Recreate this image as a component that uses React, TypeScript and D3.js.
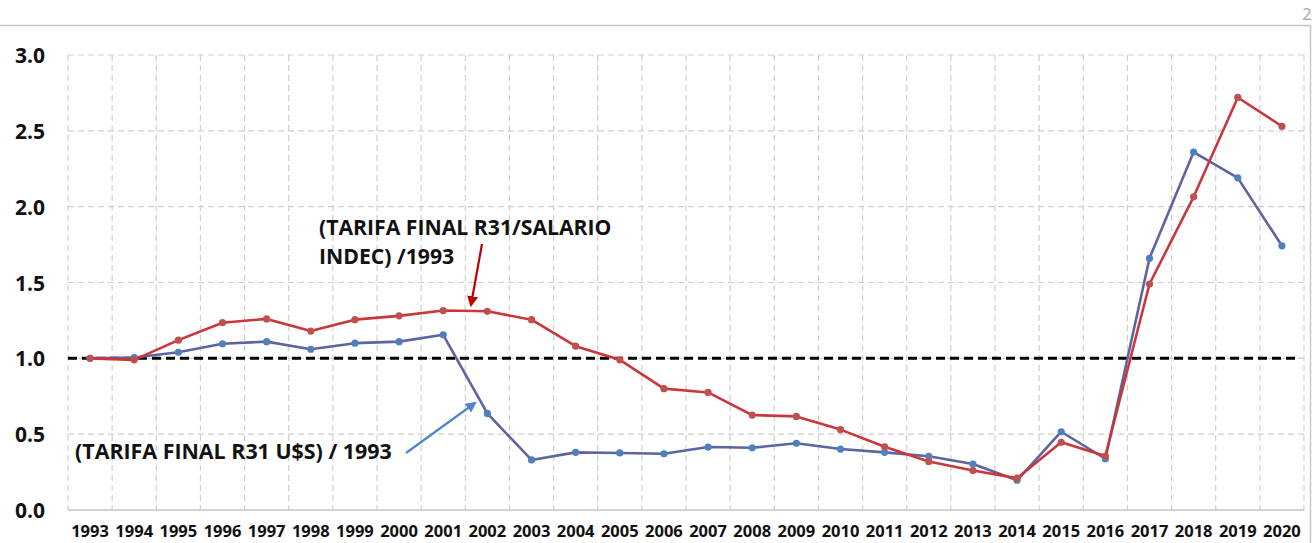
import React, { useEffect, useRef } from 'react';
import * as d3 from 'd3';

const years = [
  '1993', '1994', '1995', '1996', '1997', '1998', '1999', '2000', '2001', '2002',
  '2003', '2004', '2005', '2006', '2007', '2008', '2009', '2010', '2011', '2012',
  '2013', '2014', '2015', '2016', '2017', '2018', '2019', '2020',
];

// (TARIFA FINAL R31/SALARIO INDEC) /1993
const salario = [
  1.0, 0.99, 1.12, 1.235, 1.26, 1.18, 1.255, 1.28, 1.315, 1.31,
  1.255, 1.08, 0.99, 0.8, 0.775, 0.626, 0.617, 0.53, 0.417, 0.32,
  0.26, 0.21, 0.446, 0.356, 1.49, 2.065, 2.72, 2.53,
];

// (TARIFA FINAL R31 U$S) / 1993
const dolares = [
  1.0, 1.005, 1.04, 1.096, 1.11, 1.06, 1.1, 1.11, 1.155, 0.637,
  0.33, 0.38, 0.376, 0.371, 0.415, 0.41, 0.44, 0.402, 0.38, 0.354,
  0.303, 0.196, 0.516, 0.338, 1.66, 2.36, 2.19, 1.742,
];

const yTicks = [0, 0.5, 1, 1.5, 2, 2.5, 3];
const baseline = 1.0;

const W = 1312;
const H = 543;

const App: React.FC = () => {
  const svgRef = useRef<SVGSVGElement>(null);

  useEffect(() => {
    if (!svgRef.current) return;
    const svg = d3.select(svgRef.current);
    svg.selectAll('*').remove();

    const left = 68;
    const right = 1304;
    const top = 55;
    const bottom = 510;
    const font = "'Open Sans', 'Noto Sans', sans-serif";

    const x = d3.scaleBand<string>().domain(years).range([left, right]);
    const cx = (d: string) => (x(d) as number) + x.bandwidth() / 2;
    const y = d3.scaleLinear().domain([0, 3]).range([bottom, top]);

    // arrow heads
    const defs = svg.append('defs');
    [['redHead', '#C00000'], ['blueHead', '#4F86C6']].forEach(([id, c]) => {
      defs.append('marker')
        .attr('id', id)
        .attr('viewBox', '0 0 10 10')
        .attr('refX', 8)
        .attr('refY', 5)
        .attr('markerWidth', 5)
        .attr('markerHeight', 5)
        .attr('orient', 'auto')
        .append('path')
        .attr('d', 'M0,0 L10,5 L0,10 z')
        .attr('fill', c);
    });

    // frame remains
    svg.append('line')
      .attr('x1', 0).attr('x2', 1310).attr('y1', 25.5).attr('y2', 25.5)
      .attr('stroke', '#c8c8c8').attr('stroke-width', 1.5);
    svg.append('line')
      .attr('x1', 1310.5).attr('x2', 1310.5).attr('y1', 25).attr('y2', H)
      .attr('stroke', '#c8c8c8').attr('stroke-width', 1.5);
    svg.append('text')
      .attr('x', 1302).attr('y', 20)
      .attr('fill', '#a8a8a8')
      .attr('font-family', font)
      .attr('font-size', '17px')
      .text('2');

    // grid
    const grid = svg.append('g');
    yTicks.filter(t => t > 0).forEach(t => {
      grid.append('line')
        .attr('x1', left).attr('x2', right)
        .attr('y1', y(t)).attr('y2', y(t))
        .attr('stroke', '#cfcfcf').attr('stroke-width', 1.2)
        .attr('stroke-dasharray', '6,4');
    });
    const bounds = years.map(d => x(d) as number).concat([right]);
    bounds.forEach(b => {
      grid.append('line')
        .attr('x1', b).attr('x2', b)
        .attr('y1', top).attr('y2', bottom)
        .attr('stroke', '#cfcfcf').attr('stroke-width', 1.2)
        .attr('stroke-dasharray', '6,4');
    });
    grid.append('line')
      .attr('x1', left).attr('x2', right)
      .attr('y1', y(0)).attr('y2', y(0))
      .attr('stroke', '#c4c4c4').attr('stroke-width', 1.5);

    // y labels
    yTicks.forEach(t => {
      svg.append('text')
        .attr('x', 45).attr('y', y(t))
        .attr('text-anchor', 'end')
        .attr('dominant-baseline', 'central')
        .attr('font-family', font)
        .attr('font-weight', 'bold')
        .attr('font-size', '21px')
        .attr('fill', '#111')
        .text(d3.format('.1f')(t));
    });

    // x labels
    years.forEach(d => {
      svg.append('text')
        .attr('x', cx(d)).attr('y', 537)
        .attr('text-anchor', 'middle')
        .attr('font-family', font)
        .attr('font-weight', 'bold')
        .attr('font-size', '16.5px')
        .attr('fill', '#111')
        .text(d);
    });

    // base line at 1.0
    svg.append('line')
      .attr('x1', left).attr('x2', right - 4)
      .attr('y1', y(baseline)).attr('y2', y(baseline))
      .attr('stroke', '#000').attr('stroke-width', 3)
      .attr('stroke-dasharray', '9,5');

    const line = d3.line<number>()
      .x((_, i) => cx(years[i]))
      .y(v => y(v));

    const series = [
      { values: dolares, stroke: '#5D64A0', dot: '#4F7FBF' },
      { values: salario, stroke: '#CB363A', dot: '#C0504D' },
    ];

    series.forEach(s => {
      svg.append('path')
        .datum(s.values)
        .attr('d', line)
        .attr('fill', 'none')
        .attr('stroke', s.stroke)
        .attr('stroke-width', 2.6)
        .attr('stroke-linejoin', 'round');
      svg.append('g')
        .selectAll('circle')
        .data(s.values)
        .join('circle')
        .attr('cx', (_, i) => cx(years[i]))
        .attr('cy', v => y(v))
        .attr('r', 3.6)
        .attr('fill', s.dot);
    });

    // annotations
    const ann = svg.append('g')
      .attr('font-family', font)
      .attr('font-weight', 'bold')
      .attr('fill', '#111');
    ann.append('text')
      .attr('x', 319).attr('y', 235)
      .attr('font-size', '21.2px')
      .text('(TARIFA FINAL R31/SALARIO');
    ann.append('text')
      .attr('x', 319).attr('y', 264)
      .attr('font-size', '21.2px')
      .text('INDEC) /1993');
    ann.append('text')
      .attr('x', 75).attr('y', 459)
      .attr('font-size', '21.4px')
      .text('(TARIFA FINAL R31 U$S) / 1993');

    svg.append('line')
      .attr('x1', 482).attr('y1', 244)
      .attr('x2', 471).attr('y2', 305)
      .attr('stroke', '#C00000').attr('stroke-width', 2.2)
      .attr('marker-end', 'url(#redHead)');
    svg.append('line')
      .attr('x1', 406).attr('y1', 453)
      .attr('x2', 475).attr('y2', 403)
      .attr('stroke', '#4F86C6').attr('stroke-width', 2.2)
      .attr('marker-end', 'url(#blueHead)');
  }, []);

  return (
    <svg
      ref={svgRef}
      width={W}
      height={H}
      style={{ position: 'absolute', left: 0, top: 0, background: '#fff' }}
    />
  );
};

export default App;
